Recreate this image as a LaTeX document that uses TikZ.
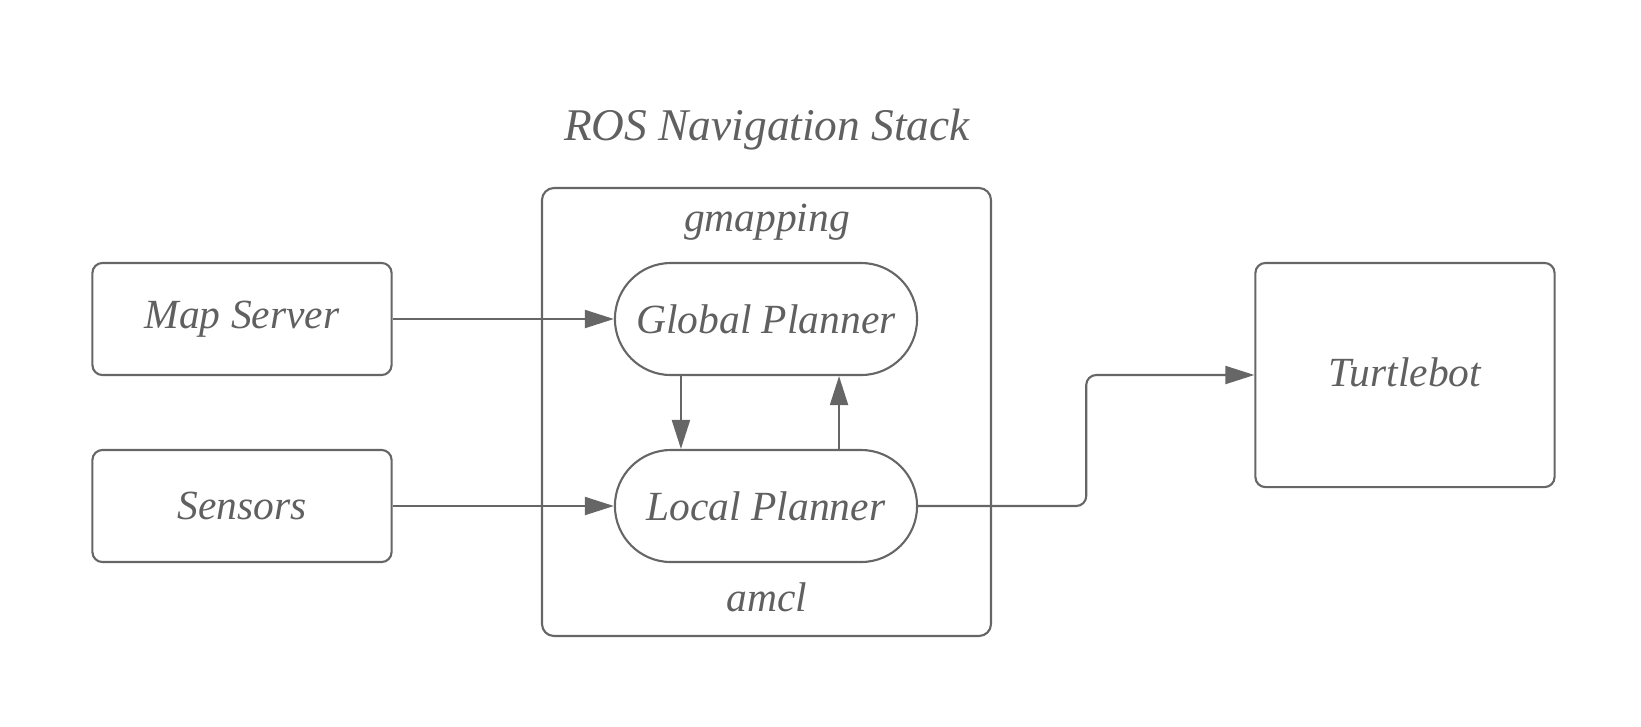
\documentclass[tikz,border=0pt]{standalone}
\usepackage{fontspec}
\setmainfont{Liberation Serif}
\usetikzlibrary{arrows.meta,calc}
\definecolor{linegray}{HTML}{666666}
\definecolor{textgray}{HTML}{606060}
\tikzset{
	box/.style={draw=linegray, line width=0.6pt, rounded corners=0.1cm, minimum width=2.99cm, minimum height=1.12cm},
	pill/.style={draw=linegray, line width=0.6pt, rounded corners=0.56cm, minimum width=3.02cm, minimum height=1.12cm},
	link/.style={draw=linegray, line width=0.6pt, -{Triangle[length=0.29cm,width=0.18cm]}}
}
\begin{document}
\begin{tikzpicture}[x=0.01cm, y=-0.01cm, font=\fontsize{11.8}{14}\selectfont\itshape, text=textgray, line join=round]
	\useasboundingbox (0,0) rectangle (1641,726);
	\def\dnx{-0.85cm} % shift of the down arrow
	\def\upx{0.73cm}  % shift of the up arrow
	\node (title) at (767,130) {\fontsize{12.9}{15}\selectfont ROS Navigation Stack};
	\draw[linegray, line width=0.6pt, rounded corners=0.12cm] (542,188) rectangle (991,636);
	\node (gmap) at (767,222) {gmapping};
	\node (amcl) at (767,597) {amcl};
	\node[pill] (global) at (766,319) {Global Planner};
	\node[pill] (local) at (766,506) {Local Planner};
	\node[box] (map) at (242,319) {Map Server};
	\node[box] (sensors) at (242,506) {Sensors};
	\node[box, minimum height=2.24cm] (turtle) at (1405,375) {\raisebox{0.05cm}{Turtlebot}};
	\draw[link] (map) -- (global);
	\draw[link] (sensors) -- (local);
	\draw[link] ([xshift=\dnx]global.south) -- ([xshift=\dnx]local.north);
	\draw[link] ([xshift=\upx]local.north) -- ([xshift=\upx]global.south);
	\draw[link, rounded corners=0.1cm] (local.east) -| ($(local.east)!0.5!(turtle.west)$) |- (turtle.west);
\end{tikzpicture}
\end{document}
